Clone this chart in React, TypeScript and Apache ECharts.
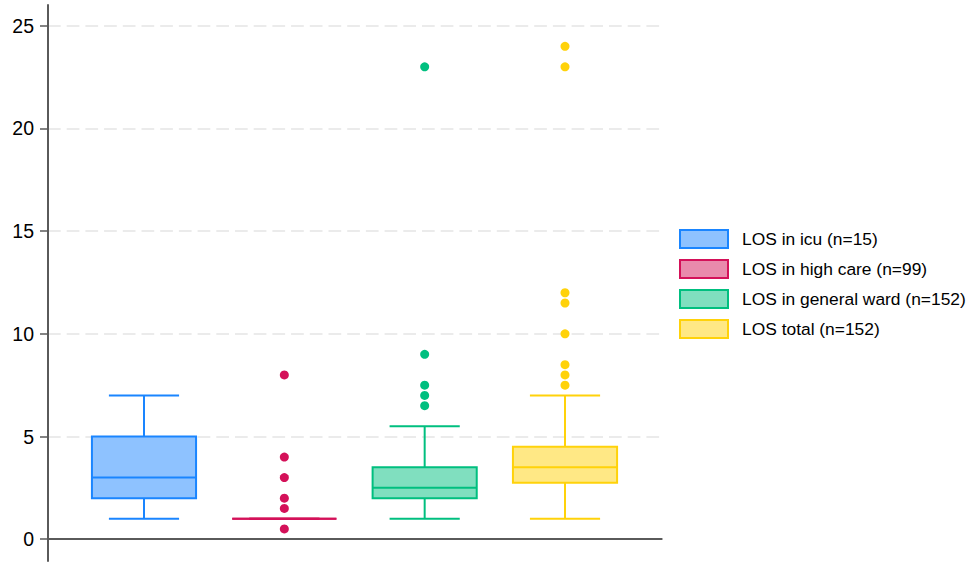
import React, { useEffect, useRef } from "react";
import * as echarts from "echarts";

const groups = [
  "LOS in icu (n=15)",
  "LOS in high care (n=99)",
  "LOS in general ward (n=152)",
  "LOS total (n=152)",
];
// [min, Q1, median, Q3, max] (whisker ends)
const boxIcu = [1, 2, 3, 5, 7];
const boxHighCare = [1, 1, 1, 1, 1];
const boxGeneral = [1, 2, 2.5, 3.5, 5.5];
const boxTotal = [1, 2.75, 3.5, 4.5, 7];
const boxStats = [boxIcu, boxHighCare, boxGeneral, boxTotal];

const outIcu: number[] = [];
const outHighCare = [0.5, 1.5, 2, 3, 4, 8];
const outGeneral = [6.5, 7, 7.5, 9, 23];
const outTotal = [7.5, 8, 8.5, 10, 11.5, 12, 23, 24];
const outliers = [outIcu, outHighCare, outGeneral, outTotal];

const yTicks = [0, 5, 10, 15, 20, 25];

const strokeColors = ["#1A85FF", "#D41159", "#00BF7F", "#FFD20A"];
const fillColors = ["#8EC2FF", "#E98AAC", "#80DFBF", "#FFE885"];

const FONT = "'Liberation Sans', Arial, Helvetica, sans-serif";

export default function App() {
  const ref = useRef<HTMLDivElement>(null);

  useEffect(() => {
    if (!ref.current) return;
    const chart = echarts.init(ref.current, null, { renderer: "svg" });

    const boxSeries = groups.map((name, i) => ({
      type: "custom",
      name,
      z: 2,
      encode: { x: 0, y: [1, 2, 3, 4, 5] },
      data: [[i + 1, ...boxStats[i]]],
      itemStyle: { color: fillColors[i], borderColor: strokeColors[i] },
      renderItem: (params: any, api: any) => {
        const x = api.value(0);
        const mn = api.value(1);
        const q1 = api.value(2);
        const md = api.value(3);
        const q3 = api.value(4);
        const mx = api.value(5);
        const unit = api.size([1, 0])[0];
        const bw = unit * 0.742;
        const cw = unit * 0.5;
        const pMin = api.coord([x, mn]);
        const pQ1 = api.coord([x, q1]);
        const pMd = api.coord([x, md]);
        const pQ3 = api.coord([x, q3]);
        const pMax = api.coord([x, mx]);
        const cx = pMin[0];
        const lineStyle = { stroke: strokeColors[i], lineWidth: 2, fill: null };
        return {
          type: "group",
          children: [
            { type: "line", shape: { x1: cx, y1: pMin[1], x2: cx, y2: pQ1[1] }, style: lineStyle },
            { type: "line", shape: { x1: cx, y1: pQ3[1], x2: cx, y2: pMax[1] }, style: lineStyle },
            { type: "line", shape: { x1: cx - cw / 2, y1: pMin[1], x2: cx + cw / 2, y2: pMin[1] }, style: lineStyle },
            { type: "line", shape: { x1: cx - cw / 2, y1: pMax[1], x2: cx + cw / 2, y2: pMax[1] }, style: lineStyle },
            {
              type: "rect",
              shape: { x: cx - bw / 2, y: pQ3[1], width: bw, height: pQ1[1] - pQ3[1] },
              style: { fill: fillColors[i], stroke: strokeColors[i], lineWidth: 2 },
            },
            { type: "line", shape: { x1: cx - bw / 2, y1: pMd[1], x2: cx + bw / 2, y2: pMd[1] }, style: lineStyle },
          ],
        };
      },
    }));

    const outlierSeries = groups.map((name, i) => ({
      type: "scatter",
      name: "outliers " + (i + 1),
      z: 3,
      symbol: "circle",
      symbolSize: 9,
      itemStyle: { color: strokeColors[i], opacity: 1 },
      data: outliers[i].map((v) => [i + 1, v]),
    }));

    chart.setOption({
      animation: false,
      grid: {
        left: 48,
        top: 5,
        width: 613.7,
        height: 556,
        containLabel: false,
        outerBoundsMode: "none",
      },
      legend: {
        orient: "vertical",
        left: 674,
        top: 224,
        padding: 5,
        itemWidth: 48,
        itemHeight: 18,
        itemGap: 10,
        icon: "rect",
        data: groups.map((name, i) => ({
          name,
          icon: "rect",
          itemStyle: { color: fillColors[i], borderColor: strokeColors[i], borderWidth: 2 },
        })),
        textStyle: { fontFamily: FONT, fontSize: 17.4, color: "#000", padding: [0, 0, 0, 9] },
      },
      xAxis: {
        type: "value",
        min: 0.316,
        max: 4.689,
        axisLine: { show: true, lineStyle: { color: "#5a5a5a", width: 2 } },
        axisTick: { show: false },
        axisLabel: { show: false },
        splitLine: { show: false },
      },
      yAxis: {
        type: "value",
        min: -1.061,
        max: 26.01,
        axisLine: { show: true, lineStyle: { color: "#5a5a5a", width: 2 } },
        axisTick: { show: true, length: 8, customValues: yTicks, lineStyle: { color: "#5a5a5a", width: 1.5 } },
        axisLabel: {
          customValues: yTicks,
          fontFamily: FONT,
          fontSize: 19.5,
          color: "#000",
          margin: 14,
        },
        splitLine: {
          show: true,
          lineStyle: { color: "#ebebeb", width: 2, type: [12.7, 6] },
        },
      },
      series: [...boxSeries, ...outlierSeries],
    } as any);

    return () => chart.dispose();
  }, []);

  return (
    <div
      ref={ref}
      style={{ position: "absolute", left: 0, top: 0, width: 970, height: 563 }}
    />
  );
}
